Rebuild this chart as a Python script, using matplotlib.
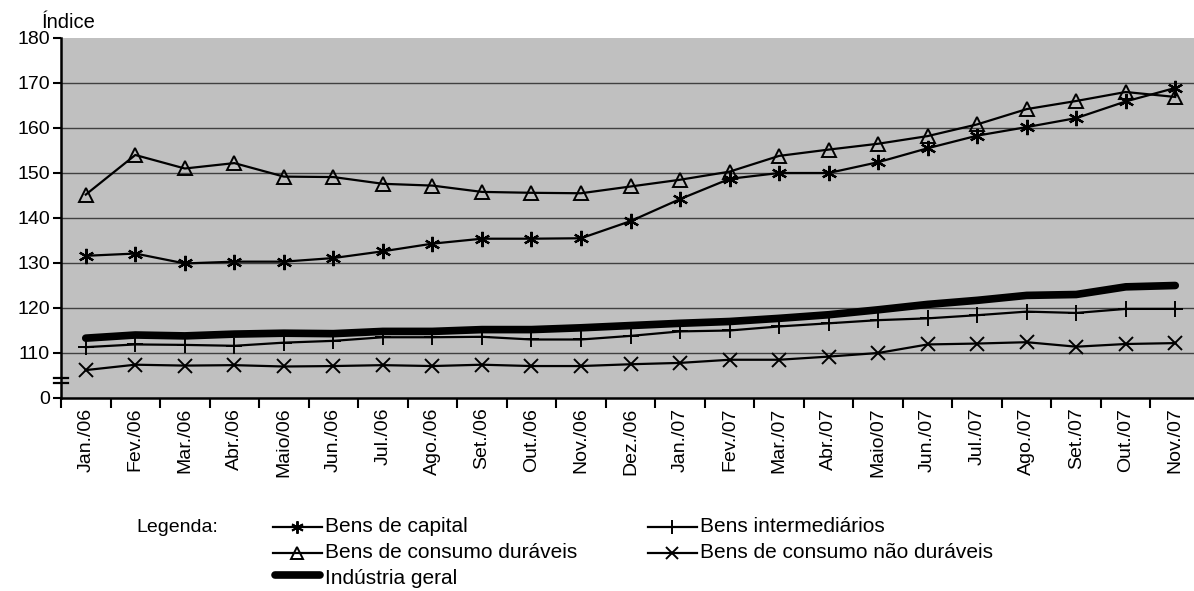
import matplotlib
matplotlib.use("Agg")
import matplotlib.pyplot as plt
from matplotlib.lines import Line2D

months = ["Jan./06", "Fev./06", "Mar./06", "Abr./06", "Maio/06", "Jun./06", "Jul./06",
          "Ago./06", "Set./06", "Out./06", "Nov./06", "Dez./06", "Jan./07", "Fev./07",
          "Mar./07", "Abr./07", "Maio/07", "Jun./07", "Jul./07", "Ago./07", "Set./07",
          "Out./07", "Nov./07"]

bens_capital = [131.6, 132.1, 129.9, 130.3, 130.3, 131.1, 132.6, 134.3, 135.4, 135.4, 135.5,
                139.3, 144.2, 148.7, 150.0, 150.0, 152.4, 155.5, 158.3, 160.2, 162.2, 165.9, 168.9]
bens_intermediarios = [111.3, 111.9, 111.8, 111.6, 112.3, 112.7, 113.5, 113.5, 113.6, 113.0, 113.0,
                       113.8, 114.8, 115.0, 115.9, 116.6, 117.3, 117.7, 118.4, 119.2, 118.9, 119.8, 119.8]
bens_duraveis = [145.2, 154.0, 151.0, 152.2, 149.2, 149.1, 147.6, 147.2, 145.8, 145.6, 145.5,
                 147.0, 148.5, 150.3, 153.8, 155.2, 156.5, 158.2, 160.8, 164.2, 166.0, 168.0, 166.9]
bens_nao_duraveis = [106.2, 107.4, 107.2, 107.3, 107.0, 107.1, 107.3, 107.1, 107.4, 107.1, 107.1,
                     107.5, 107.8, 108.5, 108.5, 109.2, 110.0, 111.9, 112.1, 112.4, 111.4, 112.0, 112.2]
industria_geral = [113.3, 114.0, 113.8, 114.2, 114.4, 114.3, 114.8, 114.8, 115.2, 115.2, 115.6,
                   116.1, 116.6, 117.0, 117.7, 118.5, 119.6, 120.8, 121.7, 122.8, 123.0, 124.7, 125.0]

# broken axis: the "0" tick sits where 100 would be
y_ticks = [100, 110, 120, 130, 140, 150, 160, 170, 180]
y_labels = ["0", "110", "120", "130", "140", "150", "160", "170", "180"]

plt.rcParams['font.family'] = ['Liberation Sans', 'DejaVu Sans']

W, H = 1194, 591
fig = plt.figure(figsize=(W / 100, H / 100), dpi=100)
left, right, top, bottom = 61, 1200, 38, 398
ax = fig.add_axes([left / W, 1 - bottom / H, (right - left) / W, (bottom - top) / H])
ax.set_facecolor('#C0C0C0')

x = list(range(len(months)))
asterisk = (6, 2, 0)
ax.plot(x, bens_capital, color='black', lw=1.6, marker=asterisk, ms=11, mew=1.6)
ax.plot(x, bens_intermediarios, color='black', lw=1.6, marker='+', ms=11, mew=1.4)
ax.plot(x, bens_duraveis, color='black', lw=1.6, marker='^', ms=10, mfc='none', mew=1.4)
ax.plot(x, bens_nao_duraveis, color='black', lw=1.6, marker='x', ms=10, mew=1.4)
ax.plot(x, industria_geral, color='black', lw=5.5, solid_capstyle='round')

ax.set_xlim(-0.5, len(months) - 0.5)
ax.set_ylim(100, 180)
ax.set_yticks(y_ticks)
ax.set_yticklabels(y_labels, fontsize=14)
for v in y_ticks[1:-1]:
    ax.axhline(v, color='#404040', lw=1.0, zorder=0.5)

ax.set_xticks(x)
ax.set_xticklabels(months, rotation=90, fontsize=14)
ax.set_xticks([i - 0.5 for i in range(len(months) + 1)], minor=True)
ax.tick_params(axis='x', which='major', length=0, pad=7)
ax.tick_params(axis='x', which='minor', length=7, width=1.5, direction='out')
ax.tick_params(axis='y', length=6, width=1.5, direction='out', pad=2)
for s in ['top', 'right']:
    ax.spines[s].set_visible(False)
for s in ['left', 'bottom']:
    ax.spines[s].set_linewidth(1.8)

# axis break marks
trans = ax.get_yaxis_transform()
for yb in (104.4, 103.3):
    ax.plot([-0.006, 0.006], [yb, yb], color='black', lw=1.6, transform=trans, clip_on=False)

fig.text(42 / W, 1 - 23 / H, "Índice", fontsize=14.5, va='center', ha='left')

# legend drawn manually
fig.text(218 / W, 1 - 527 / H, "Legenda:", fontsize=14, va='center', ha='right')
entries = [
    (273, 527, "Bens de capital", dict(marker=asterisk, ms=9, mew=1.4)),
    (648, 527, "Bens intermediários", dict(marker='+', ms=10, mew=1.4)),
    (273, 553, "Bens de consumo duráveis", dict(marker='^', ms=8, mfc='none', mew=1.4)),
    (648, 553, "Bens de consumo não duráveis", dict(marker='x', ms=9, mew=1.4)),
    (273, 579, "Indústria geral", None),
]
for px, py, label, style in entries:
    if style is None:
        yy = 1 - (py - 4) / H
        fig.add_artist(Line2D([(px + 2) / W, (px + 47) / W], [yy, yy], color='black', lw=5.5,
                              solid_capstyle='round', transform=fig.transFigure))
    else:
        yy = 1 - py / H
        fig.add_artist(Line2D([px / W, (px + 49) / W], [yy, yy], color='black', lw=1.6,
                              transform=fig.transFigure))
        fig.add_artist(Line2D([(px + 24) / W], [yy], color='black', lw=0,
                              transform=fig.transFigure, **style))
    fig.text((px + 52) / W, 1 - py / H, label, fontsize=15, va='center')

fig.savefig("out.png", dpi=100)
